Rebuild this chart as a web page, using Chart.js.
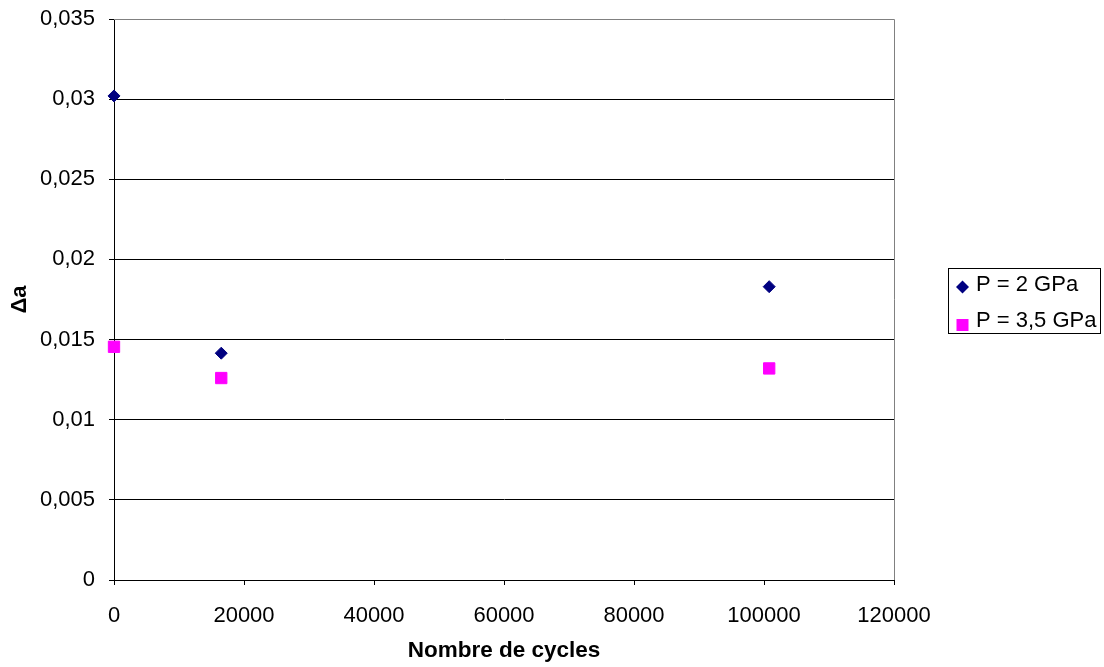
<!DOCTYPE html>
<html><head><meta charset="utf-8">
<script src="https://cdn.jsdelivr.net/npm/chart.js@4/dist/chart.umd.min.js"></script>
<style>html,body{margin:0;padding:0;background:#fff;} #wrap{width:1104px;height:667px;}</style>
</head><body><div id="wrap"><canvas id="c" width="1104" height="667"></canvas></div>
<script>
const seriesNames = ['P = 2 GPa', 'P = 3,5 GPa'];
const cyclesP2 = [0, 16500, 100800];
const deltaP2 = [0.0302, 0.01415, 0.0183];
const cyclesP35 = [0, 16500, 100800];
const deltaP35 = [0.01455, 0.0126, 0.0132];
const yTickLabels = ['0', '0,005', '0,01', '0,015', '0,02', '0,025', '0,03', '0,035'];
const xTickLabels = ['0', '20000', '40000', '60000', '80000', '100000', '120000'];
const xTitle = 'Nombre de cycles';
const yTitle = 'Δa';

const FONT = "'Liberation Sans', Arial, sans-serif";
Chart.defaults.font.family = FONT;
Chart.defaults.font.size = 22;
Chart.defaults.color = '#000';

const toPoints = (xs, ys) => xs.map((x, i) => ({x: x, y: ys[i]}));

const plotBorder = {
  id: 'plotBorder',
  beforeDatasetsDraw(chart) {
    const {ctx, chartArea: a} = chart;
    ctx.save();
    ctx.strokeStyle = '#808080';
    ctx.lineWidth = 1;
    ctx.beginPath();
    ctx.moveTo(Math.round(a.left), Math.round(a.top) + 0.5);
    ctx.lineTo(Math.round(a.right) + 0.5, Math.round(a.top) + 0.5);
    ctx.lineTo(Math.round(a.right) + 0.5, Math.round(a.bottom));
    ctx.stroke();
    ctx.restore();
  }
};

const boxedLegend = {
  id: 'boxedLegend',
  afterDraw(chart) {
    const ctx = chart.ctx;
    const bx = 948, by = 268, bw = 152, bh = 65;
    ctx.save();
    ctx.strokeStyle = '#000';
    ctx.lineWidth = 1;
    ctx.strokeRect(bx + 0.5, by + 0.5, bw, bh);
    const rows = [285, 321];
    chart.data.datasets.forEach((ds, i) => {
      const y = rows[i];
      const mx = 962.5;
      ctx.fillStyle = ds.backgroundColor;
      ctx.beginPath();
      if (ds.pointStyle === 'rectRot') {
        const r = 6.5;
        ctx.moveTo(mx - r, y + 2); ctx.lineTo(mx, y + 2 - r); ctx.lineTo(mx + r, y + 2); ctx.lineTo(mx, y + 2 + r);
        ctx.closePath();
      } else {
        ctx.rect(mx - 6, y + 4 - 6, 12, 12);
      }
      ctx.fill();
      ctx.fillStyle = '#000';
      ctx.font = '22px ' + FONT;
      ctx.textBaseline = 'middle';
      ctx.textAlign = 'left';
      ctx.fillText(ds.label, 976, y);
    });
    ctx.restore();
  }
};

new Chart(document.getElementById('c'), {
  type: 'scatter',
  data: {
    datasets: [
      {
        label: seriesNames[0],
        data: toPoints(cyclesP2, deltaP2),
        pointStyle: 'rectRot',
        radius: 6,
        borderWidth: 1,
        backgroundColor: '#000080',
        borderColor: '#000080',
        clip: false
      },
      {
        label: seriesNames[1],
        data: toPoints(cyclesP35, deltaP35),
        pointStyle: 'rect',
        radius: 8,
        borderWidth: 1,
        backgroundColor: '#FF00FF',
        borderColor: '#FF00FF',
        clip: false
      }
    ]
  },
  options: {
    responsive: false,
    animation: false,
    devicePixelRatio: 1,
    layout: {padding: {top: 19, right: 210, left: 0, bottom: 0}},
    plugins: {legend: {display: false}, tooltip: {enabled: false}},
    scales: {
      x: {
        type: 'linear',
        min: 0, max: 120000,
        afterFit(s) { s.height = 87; s.paddingLeft = 0; s.paddingRight = 0; },
        ticks: {
          stepSize: 20000,
          padding: 18,
          maxRotation: 0,
          callback: (v, i) => xTickLabels[i]
        },
        grid: {drawOnChartArea: false, drawTicks: true, tickLength: 5, color: '#000', lineWidth: 1},
        border: {display: true, color: '#000', width: 1},
        title: {display: true, text: xTitle, font: {size: 22.5, weight: 'bold'}, padding: {top: 0, bottom: 3}}
      },
      y: {
        type: 'linear',
        min: 0, max: 0.035,
        afterFit(s) { s.width = 114; s.paddingTop = 0; s.paddingBottom = 0; },
        ticks: {
          stepSize: 0.005,
          padding: 14,
          callback: (v) => yTickLabels[Math.round(v / 0.005)]
        },
        grid: {drawTicks: true, tickLength: 5, color: '#000', lineWidth: 1},
        border: {display: true, color: '#000', width: 1},
        title: {display: true, text: yTitle, font: {size: 22, weight: 'bold'}, padding: {top: 7, bottom: 0}}
      }
    }
  },
  plugins: [plotBorder, boxedLegend]
});
</script>
</body></html>
